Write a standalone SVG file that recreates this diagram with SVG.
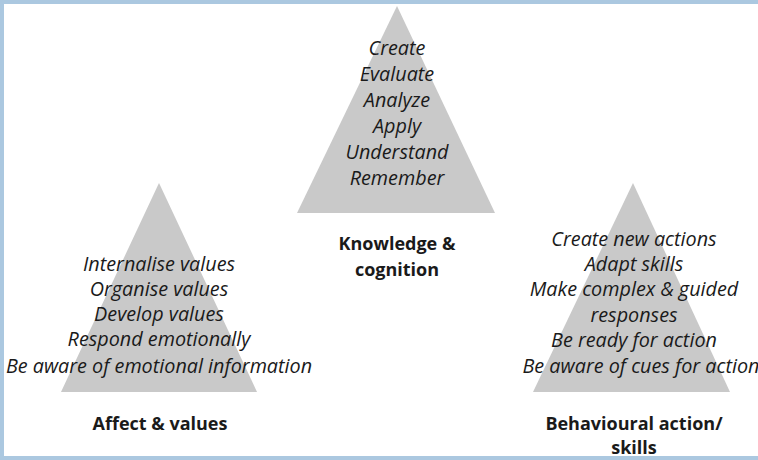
<svg xmlns="http://www.w3.org/2000/svg" width="758" height="460" viewBox="0 0 758 460">
<style>
.tri{fill:#c9c9c9}
.it{font-family:"Open Sans","Liberation Sans",sans-serif;font-style:italic;font-size:19.8px;fill:#1a1a1a;text-anchor:middle}
.bd{font-family:"Open Sans","Liberation Sans",sans-serif;font-weight:bold;font-size:18px;fill:#1a1a1a;text-anchor:middle}
.border{fill:#abc8e0}
</style>
<rect width="758" height="460" fill="#ffffff"/>
<rect class="border" x="0" y="0" width="758" height="4"/>
<rect class="border" x="0" y="0" width="4" height="460"/>
<rect class="border" x="0" y="456" width="758" height="4"/>
<g id="knowledge">
<polygon class="tri" points="397,6 297,213 495,213"/>
<text class="it" x="397" y="55">Create</text>
<text class="it" x="397" y="81">Evaluate</text>
<text class="it" x="397" y="107">Analyze</text>
<text class="it" x="397" y="133">Apply</text>
<text class="it" x="397" y="159">Understand</text>
<text class="it" x="397" y="185">Remember</text>
<text class="bd" x="397" y="250">Knowledge &amp;</text>
<text class="bd" x="397" y="276">cognition</text>
</g>
<g id="affect">
<polygon class="tri" points="159,183 61,392 257,392"/>
<text class="it" x="159" y="271">Internalise values</text>
<text class="it" x="159" y="296">Organise values</text>
<text class="it" x="159" y="321">Develop values</text>
<text class="it" x="159" y="346">Respond emotionally</text>
<text class="it" x="159" y="373">Be aware of emotional information</text>
<text class="bd" x="160" y="430">Affect &amp; values</text>
</g>
<g id="behaviour">
<polygon class="tri" points="633,183 533,392 730,392"/>
<text class="it" x="634" y="246">Create new actions</text>
<text class="it" x="634" y="271">Adapt skills</text>
<text class="it" x="634" y="296">Make complex &amp; guided</text>
<text class="it" x="634" y="322">responses</text>
<text class="it" x="634" y="347">Be ready for action</text>
<text class="it" x="641" y="373">Be aware of cues for action</text>
<text class="bd" x="634" y="430">Behavioural action/</text>
<text class="bd" x="634" y="454">skills</text>
</g>
<g id="connectors"></g>
</svg>
